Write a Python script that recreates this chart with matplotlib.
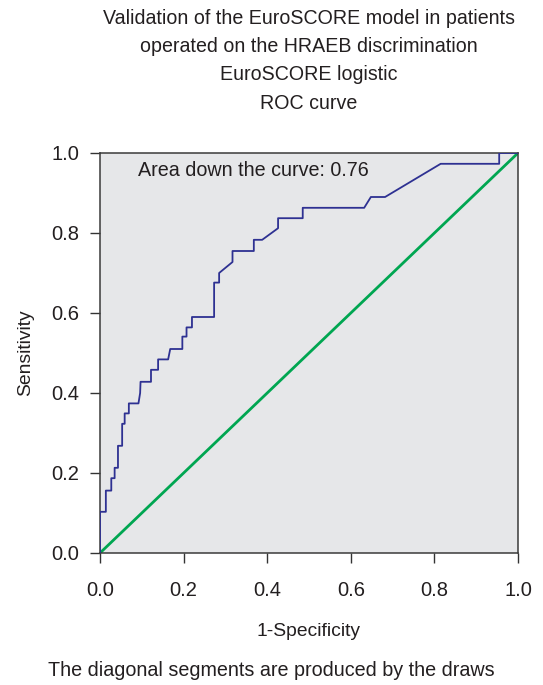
import matplotlib
matplotlib.use("Agg")
import matplotlib.pyplot as plt

# ROC curve points (1-specificity, sensitivity)
fpr = [0.0, 0.0, 0.014, 0.014, 0.027, 0.027, 0.035, 0.035, 0.043, 0.043,
       0.053, 0.053, 0.059, 0.059, 0.069, 0.069, 0.092, 0.096, 0.097, 0.122,
       0.122, 0.139, 0.139, 0.163, 0.168, 0.197, 0.197, 0.207, 0.207, 0.22,
       0.22, 0.273, 0.273, 0.285, 0.285, 0.317, 0.317, 0.368, 0.368, 0.388,
       0.426, 0.426, 0.485, 0.485, 0.632, 0.648, 0.682, 0.815, 0.955, 0.955,
       1.0]
tpr = [0.0, 0.103, 0.103, 0.156, 0.156, 0.187, 0.187, 0.213, 0.213, 0.268,
       0.268, 0.323, 0.323, 0.349, 0.349, 0.374, 0.374, 0.40, 0.428, 0.428,
       0.458, 0.458, 0.484, 0.484, 0.51, 0.51, 0.541, 0.541, 0.564, 0.564,
       0.59, 0.59, 0.676, 0.676, 0.70, 0.7275, 0.755, 0.755, 0.783, 0.783,
       0.812, 0.837, 0.837, 0.863, 0.863, 0.89, 0.89, 0.973, 0.973, 1.0,
       1.0]
ref_line = [0.0, 1.0]
ticks = [0.0, 0.2, 0.4, 0.6, 0.8, 1.0]
auc = 0.76

title_lines = ["Validation of the EuroSCORE model in patients",
               "operated on the HRAEB discrimination",
               "EuroSCORE logistic",
               "ROC curve"]

plt.rcParams['font.family'] = ['Liberation Sans', 'DejaVu Sans']
plt.rcParams['font.size'] = 14

W, H = 543, 685
fig = plt.figure(figsize=(W / 100, H / 100), dpi=100)
ax = fig.add_axes([100 / W, 1 - 553 / H, 418 / W, 400 / H])
ax.set_facecolor('#e6e7e9')

ax.plot(ref_line, ref_line, color='#00a651', linewidth=2.0, zorder=2)
ax.plot(fpr, tpr, color='#2e3192', linewidth=1.3, zorder=3)

ax.set_xlim(0, 1)
ax.set_ylim(0, 1)
ax.set_xticks(ticks)
ax.set_yticks(ticks)
ax.set_xticklabels([f"{t:.1f}" for t in ticks])
ax.set_yticklabels([f"{t:.1f}" for t in ticks])
ax.tick_params(axis='both', direction='out', length=7, width=1, color='#333333',
               labelsize=14.5, labelcolor='#231f20')
ax.tick_params(axis='x', pad=13)
ax.tick_params(axis='y', pad=8)
for s in ax.spines.values():
    s.set_color('#3a3a3a')
    s.set_linewidth(1.1)

ax.text(0.092, 0.955, f"Area down the curve: {auc:.2f}", transform=ax.transAxes,
        fontsize=14.2, color='#231f20', va='center', ha='left')

ax.set_xlabel("1-Specificity", fontsize=13.9, labelpad=17, color='#231f20')
ax.set_ylabel("Sensitivity", fontsize=13.9, labelpad=12, color='#231f20')

y0 = 18
for i, line in enumerate(title_lines):
    fig.text(309 / W, 1 - (y0 + i * 28.5) / H, line, ha='center', va='center',
             fontsize=14.1, color='#231f20')

fig.text(271 / W, 1 - 670 / H, "The diagonal segments are produced by the draws",
         ha='center', va='center', fontsize=14.2, color='#231f20')

fig.savefig("out.png", dpi=100)
